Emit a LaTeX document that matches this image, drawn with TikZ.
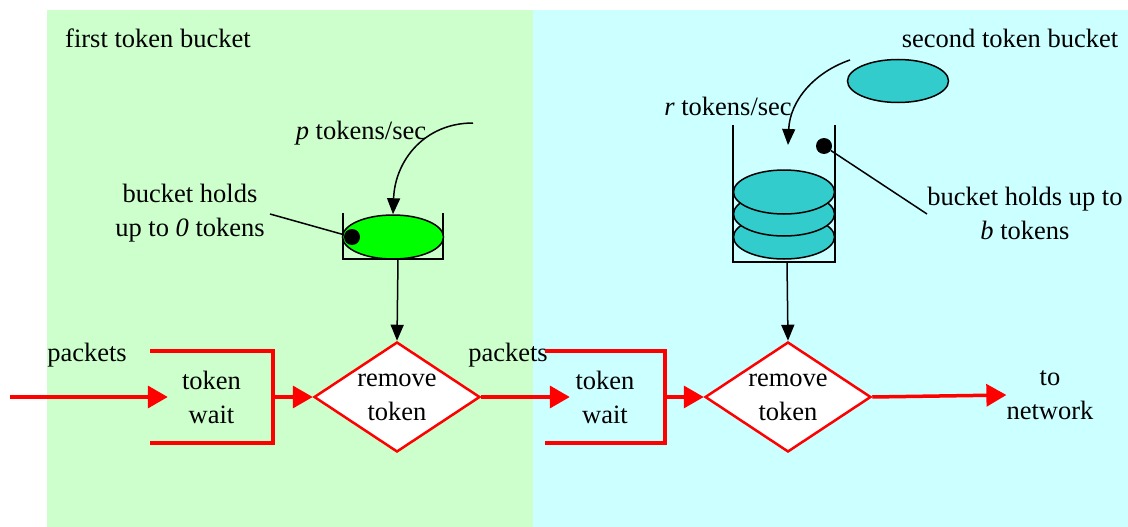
\documentclass[tikz,border=0pt]{standalone}
\usepackage{fontspec}
\setmainfont{Liberation Serif}
\newfontfamily\timesfont{Liberation Serif}
\usetikzlibrary{arrows.meta,shapes.geometric}
\definecolor{ink}{HTML}{000000}
\definecolor{cred}{HTML}{FF0000}
\definecolor{lgreen}{HTML}{CCFFCC}
\definecolor{lcyan}{HTML}{CCFFFF}
\definecolor{tgreen}{HTML}{00FF00}
\definecolor{tteal}{HTML}{33CCCC}
\tikzset{
  every picture/.style={font=\timesfont\fontsize{26.5}{34}\selectfont},
  lab/.style={align=center,inner sep=0pt,text=ink},
  wire/.style={draw=ink,line width=1.5pt},
  cup/.style={wire},
  barr/.style={wire,-{Triangle[length=16pt,width=13pt]}},
  rline/.style={draw=cred,line width=3.5pt},
  rarr/.style={rline,-{Triangle[length=20pt,width=22pt]}},
  tok/.style={ellipse,draw=ink,line width=1.5pt,minimum width=101,minimum height=44,inner sep=0pt},
  dot/.style={circle,fill=ink,inner sep=0pt,minimum size=16},
  dec/.style={diamond,draw=cred,fill=white,line width=2.5pt,aspect=1.5,inner sep=0pt,
    minimum width=166,minimum height=110,align=center,text=ink},
}
\begin{document}
\begin{tikzpicture}[x=1pt,y=-1pt]
  \useasboundingbox (0,0) rectangle (1128,527);
  % the two shaded halves
  \fill[lgreen] (47,10) rectangle (533,527);
  \fill[lcyan] (533,10) rectangle (1128,527);
  \node[lab,anchor=west] (t1) at (65,38) {first token bucket};
  \node[lab] (t2) at (1010,38) {second token bucket};

  % first bucket
  \draw[cup] (343,213) |- (443,259) -- (443,213);
  \node[tok,fill=tgreen] (e1) at (393,237) {};
  \node[dot] (d1) at (352,237) {};
  \node[lab] (p1) at (361,133) {\textit{p} tokens/sec};
  \coordinate (s1) at (473,123);
  \draw[barr] (s1) .. controls (425,123) and (395,160) .. (e1.north);
  \node[lab] (h1) at (190,213) {bucket holds\\up to \textit{0} tokens};
  \coordinate (l1) at (270,214);
  \draw[wire] (l1) -- (d1);

  % second bucket
  \draw[cup] (733,125) |- (835,262) -- (835,125);
  \foreach \y/\n in {237/c,214/b,192/a}
    \node[tok,fill=tteal] (e2\n) at (784,\y) {};
  \node[tok,fill=tteal,minimum height=43] (e3) at (898,81) {};
  \node[lab] (p2) at (728,106) {\textit{r} tokens/sec};
  \coordinate (s2) at (850,60);
  \coordinate (k2) at (788,145);
  \draw[barr] (s2) .. controls (815,72) and (790,100) .. (k2);
  \node[dot] (d2) at (824,146) {};
  \coordinate (l2) at (927,214);
  \draw[wire] (d2) -- (l2);
  \node[lab] (h2) at (1025,213) {bucket holds up to\\\textit{b} tokens};

  % packet path
  \coordinate (in) at (10,397);
  \node[lab] (k1) at (87,355) {packets};
  \node[lab,minimum width=123,minimum height=92] (w1) at (211.5,397) {token\\wait};
  \draw[rline] (w1.north west) -- (w1.north east) -- (w1.south east) -- (w1.south west);
  \draw[rarr] (in) -- ([xshift=18]w1.west);
  \node[dec] (r1) at (397,397) {remove\\token};
  \draw[rarr] (w1.east) -- (r1.west);
  \coordinate (o1) at (398,259);
  \draw[barr] (o1) -- (r1.north);

  \node[lab] (k3) at (508,355) {packets};
  \node[lab,minimum width=120,minimum height=92] (w2) at (605,397) {token\\wait};
  \draw[rline] (w2.north west) -- (w2.north east) -- (w2.south east) -- (w2.south west);
  \draw[rarr] (r1.east) -- ([xshift=25]w2.west);
  \node[dec] (r2) at (788,397) {remove\\token};
  \draw[rarr] (w2.east) -- (r2.west);
  \coordinate (o2) at (787,262);
  \draw[barr] (o2) -- (r2.north);
  \node[lab] (nw) at (1050,395) {to\\network};
  \draw[rarr] (r2.east) -- (nw.west);
\end{tikzpicture}
\end{document}
